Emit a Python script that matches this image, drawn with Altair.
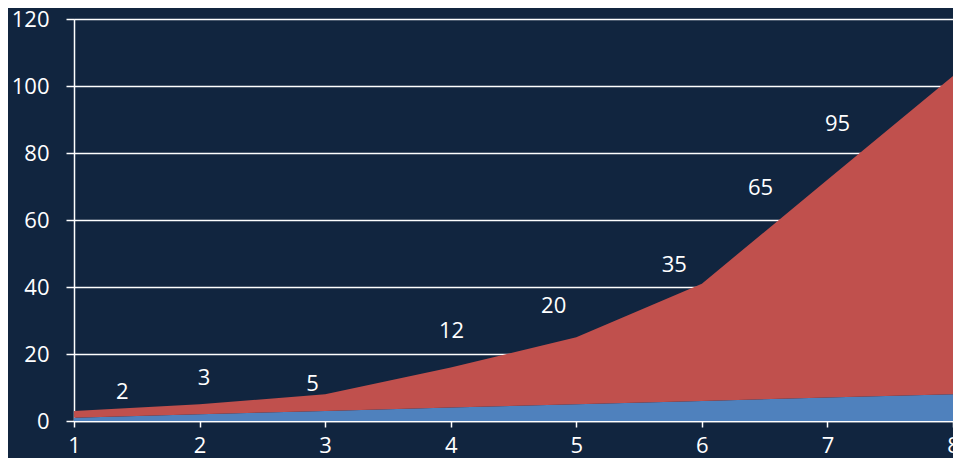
import altair as alt
import pandas as pd

x_vals = [1, 2, 3, 4, 5, 6, 7, 8]
series_a = [1, 2, 3, 4, 5, 6, 7, 8]
series_b = [2, 3, 5, 12, 20, 35, 65, 95]
label_x = [1.385, 2.036, 2.90, 4.006, 4.82, 5.78, 6.467, 7.08]
label_y = [8.6, 12.7, 11.0, 26.9, 34.2, 46.5, 69.7, 88.6]

rows = []
for i, x in enumerate(x_vals):
    rows.append({"x": x, "series": "A", "order": 0, "v": series_a[i]})
    rows.append({"x": x, "series": "B", "order": 1, "v": series_b[i]})
df = pd.DataFrame(rows)
lab = pd.DataFrame({"x": label_x, "y": label_y, "t": [str(v) for v in series_b]})

FONT = "Open Sans"
FS = 22
BG = "#11253f"

xs = alt.Scale(domain=[1, 8], nice=False, zero=False)
ys = alt.Scale(domain=[0, 120], nice=False)

area = alt.Chart(df).mark_area(strokeWidth=0).encode(
    x=alt.X("x:Q", scale=xs, axis=alt.Axis(
        values=x_vals, format="d", title=None, grid=False,
        domainColor="white", domainWidth=1.5, tickColor="white", tickWidth=1.5,
        tickSize=6, labelColor="white", labelFont=FONT, labelFontSize=FS,
        labelPadding=8, labelFlush=False)),
    y=alt.Y("v:Q", stack="zero", scale=ys, axis=alt.Axis(
        values=[0, 20, 40, 60, 80, 100, 120], title=None, grid=True,
        gridColor="white", gridWidth=1.5, gridOpacity=1,
        domainColor="white", domainWidth=1.5, tickColor="white", tickWidth=1.5,
        tickSize=8, labelColor="white", labelFont=FONT, labelFontSize=FS,
        labelPadding=17)),
    color=alt.Color("series:N", scale=alt.Scale(domain=["A", "B"], range=["#4f81bd", "#c0504d"]), legend=None),
    order=alt.Order("order:Q"),
)

text = alt.Chart(lab).mark_text(color="white", font=FONT, fontSize=FS, baseline="middle", align="center").encode(
    x=alt.X("x:Q", scale=xs),
    y=alt.Y("y:Q", scale=ys),
    text="t:N",
)

chart = (area + text).properties(
    width=879, height=402,
    background=BG,
    padding={"left": 66, "top": 11, "right": 0, "bottom": 37},
    autosize=alt.AutoSizeParams(type="none"),
).configure_view(stroke="#d9d9d9", strokeWidth=1)

chart.save("out.html", embed_options={"renderer": "svg", "actions": False})
